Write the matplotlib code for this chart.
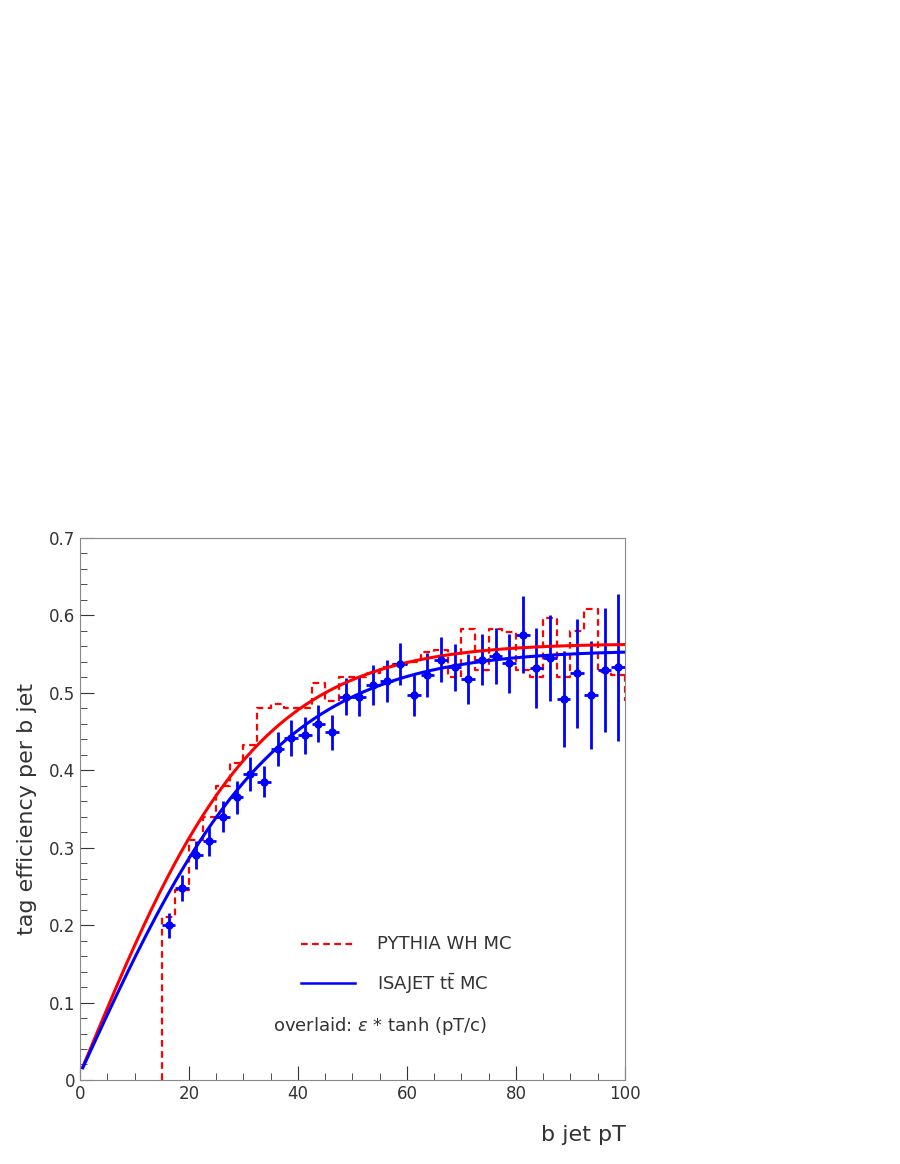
import numpy as np
from matplotlib import pyplot as plt
from matplotlib.ticker import MultipleLocator, FuncFormatter

# ISAJET ttbar points (bin centres, efficiency, error)
isajet_x = [16.25, 18.75, 21.25, 23.75, 26.25, 28.75, 31.25, 33.75, 36.25, 38.75,
            41.25, 43.75, 46.25, 48.75, 51.25, 53.75, 56.25, 58.75, 61.25, 63.75,
            66.25, 68.75, 71.25, 73.75, 76.25, 78.75, 81.25, 83.75, 86.25, 88.75,
            91.25, 93.75, 96.25, 98.75]
isajet_y = [0.200, 0.248, 0.290, 0.308, 0.340, 0.365, 0.395, 0.385, 0.427, 0.442,
            0.445, 0.460, 0.449, 0.495, 0.495, 0.510, 0.515, 0.537, 0.497, 0.523,
            0.543, 0.533, 0.518, 0.543, 0.548, 0.538, 0.575, 0.532, 0.545, 0.492,
            0.525, 0.497, 0.530, 0.533]
isajet_err = [0.016, 0.017, 0.018, 0.019, 0.020, 0.021, 0.022, 0.020, 0.022, 0.023,
              0.024, 0.024, 0.023, 0.024, 0.025, 0.026, 0.027, 0.027, 0.027, 0.028,
              0.029, 0.030, 0.032, 0.033, 0.036, 0.038, 0.050, 0.052, 0.055, 0.062,
              0.070, 0.070, 0.080, 0.095]

# PYTHIA WH histogram (bin edges and contents)
pythia_edges = list(np.arange(15, 100.1, 2.5))
pythia_y = [0.210, 0.245, 0.310, 0.340, 0.380, 0.410, 0.433, 0.480, 0.485, 0.480,
            0.480, 0.513, 0.490, 0.520, 0.520, 0.525, 0.533, 0.537, 0.540, 0.553,
            0.555, 0.520, 0.582, 0.530, 0.582, 0.578, 0.530, 0.520, 0.597, 0.520,
            0.580, 0.608, 0.527, 0.523]

# fit parameters: eps * tanh(pT / c)
pythia_fit = (0.565, 33.0)
isajet_fit = (0.557, 36.2)

RED = '#ff0000'
BLUE = '#0000ff'

fig = plt.figure(figsize=(9, 11.64), dpi=100)
ax = fig.add_axes([0.0889, 0.0722, 0.6055, 0.4656])

# histogram drawn as dashed steps, dropping to zero at the left edge
hx = [pythia_edges[0]] + pythia_edges
hy = [0.0] + pythia_y + [pythia_y[-1]]
ax.step(hx, hy[:len(hx)], where='post', color=RED, linestyle=(0, (3, 2)), linewidth=1.6)
ax.plot([pythia_edges[-1], pythia_edges[-1]], [pythia_y[-1], 0.49],
        color=RED, linestyle=(0, (3, 2)), linewidth=1.6)

ax.errorbar(isajet_x, isajet_y, yerr=isajet_err, xerr=1.25, fmt='o', color=BLUE,
            markersize=5, elinewidth=2, capsize=0)

xs = np.linspace(0.5, 100, 300)
for (eps, c), col in ((pythia_fit, RED), (isajet_fit, BLUE)):
    ax.plot(xs, eps * np.tanh(xs / c) + 0.008 * (1 - xs / 100), color=col, linewidth=2.2)

ax.xaxis.set_major_locator(MultipleLocator(20))
ax.xaxis.set_minor_locator(MultipleLocator(5))
ax.yaxis.set_major_locator(MultipleLocator(0.1))
ax.yaxis.set_minor_locator(MultipleLocator(0.02))
ax.yaxis.set_major_formatter(FuncFormatter(lambda v, _: '0' if abs(v) < 1e-9 else f'{v:.1f}'))
ax.set_xlim(0, 100)
ax.set_ylim(0, 0.7)
ax.tick_params(which='both', direction='in', labelsize=12, colors='#333333')
ax.tick_params(which='major', length=10)
ax.tick_params(which='minor', length=5)
for s in ax.spines.values():
    s.set_color('#888888')

fig.text(0.03, 0.305, 'tag efficiency per b jet', rotation=90, fontsize=16,
         ha='center', va='center', color='#333333')
fig.text(0.695, 0.025, 'b jet pT', fontsize=16, ha='right', va='center', color='#333333')

# manual legend
ax.plot([0.405, 0.505], [0.251, 0.251], transform=ax.transAxes, color=RED,
        linestyle=(0, (3, 2)), linewidth=1.6)
ax.plot([0.405, 0.505], [0.178, 0.178], transform=ax.transAxes, color=BLUE, linewidth=1.8)
ax.text(0.545, 0.251, 'PYTHIA WH MC', transform=ax.transAxes, fontsize=13, va='center',
        color='#333333')
ax.text(0.545, 0.178, r'ISAJET $\mathregular{t\bar{t}}$ MC', transform=ax.transAxes,
        fontsize=13, va='center', color='#333333')
ax.text(0.355, 0.1, r'overlaid: $\varepsilon$ * tanh (pT/c)', transform=ax.transAxes,
        fontsize=13, va='center', color='#333333')

fig.savefig('out.png')
